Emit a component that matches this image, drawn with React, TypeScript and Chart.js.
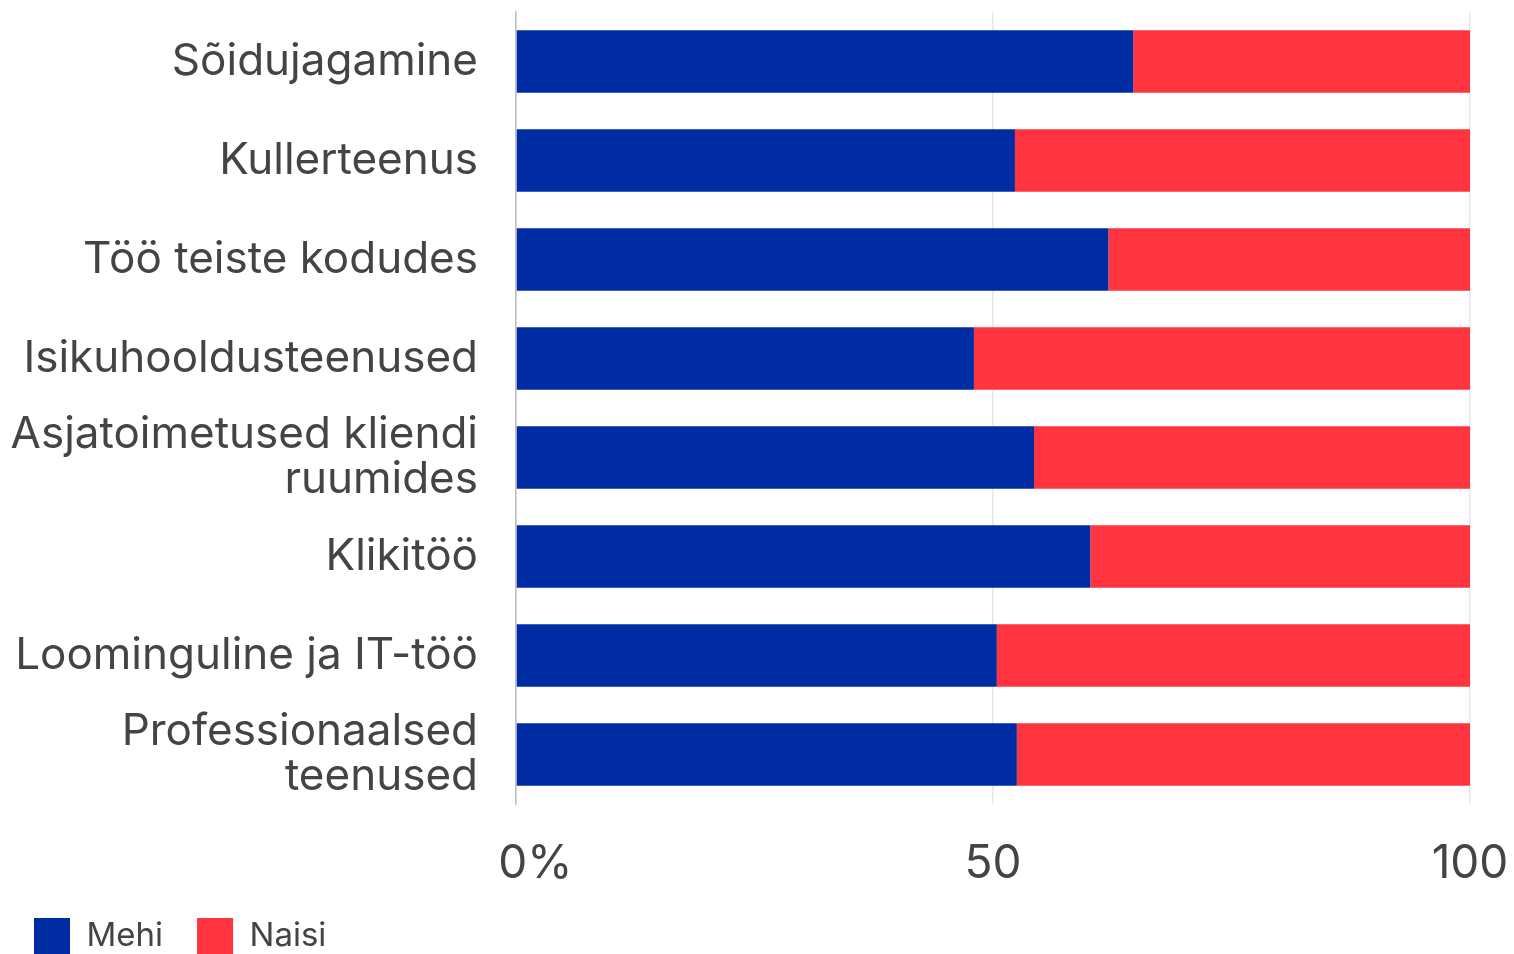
import React, { useEffect, useRef } from "react";
import { Chart, registerables } from "chart.js";

Chart.register(...registerables);

const categories: (string | string[])[] = [
  "Sõidujagamine",
  "Kullerteenus",
  "Töö teiste kodudes",
  "Isikuhooldusteenused",
  ["Asjatoimetused kliendi", "ruumides"],
  "Klikitöö",
  "Loominguline ja IT-töö",
  ["Professionaalsed", "teenused"],
];

const mehiValues = [64.7, 52.3, 62.1, 48.0, 54.3, 60.2, 50.4, 52.5];
const naisiValues = [35.3, 47.7, 37.9, 52.0, 45.7, 39.8, 49.6, 47.5];

const xTickValues = [0, 50, 100];
const xTickLabels = ["   0%", "50", "100"];

const seriesNames = ["Mehi", "Naisi"];
const seriesColors = ["#002CA3", "#FF343F"];

export default function App() {
  const canvasRef = useRef<HTMLCanvasElement | null>(null);

  useEffect(() => {
    const canvas = canvasRef.current;
    if (!canvas) return;
    const chart = new Chart(canvas, {
      type: "bar",
      data: {
        labels: categories,
        datasets: [
          {
            label: seriesNames[0],
            data: mehiValues,
            backgroundColor: seriesColors[0],
            borderWidth: 0,
            categoryPercentage: 0.9,
            barPercentage: 0.7,
          },
          {
            label: seriesNames[1],
            data: naisiValues,
            backgroundColor: seriesColors[1],
            borderWidth: 0,
            categoryPercentage: 0.9,
            barPercentage: 0.7,
          },
        ],
      },
      options: {
        indexAxis: "y",
        responsive: false,
        animation: false,
        devicePixelRatio: 1,
        layout: { padding: { top: 12, left: 0, right: 44, bottom: 0 } },
        plugins: {
          legend: {
            position: "bottom",
            align: "start",
            labels: {
              boxWidth: 36,
              boxHeight: 36,
              padding: 34,
              color: "#444444",
              font: { family: "Inter", size: 33 },
            },
          },
          tooltip: { enabled: false },
        },
        scales: {
          x: {
            stacked: true,
            min: 0,
            max: 100,
            afterBuildTicks: (scale: any) => {
              scale.ticks = xTickValues.map((v) => ({ value: v }));
            },
            afterFit: (scale: any) => {
              scale.height = 80;
              scale.paddingLeft = 0;
              scale.paddingRight = 0;
            },
            ticks: {
              padding: 33,
              color: "#444444",
              font: { family: "Inter", size: 46 },
              maxRotation: 0,
              autoSkip: false,
              callback: (value: any) => {
                const i = xTickValues.indexOf(Number(value));
                return i >= 0 ? xTickLabels[i] : "";
              },
            },
            grid: {
              color: "#E6E7EB",
              lineWidth: 1.5,
              drawTicks: false,
            },
            border: { display: false },
          },
          y: {
            stacked: true,
            afterFit: (scale: any) => {
              scale.width = 516;
              scale.paddingTop = 0;
              scale.paddingBottom = 0;
            },
            ticks: {
              padding: 38,
              autoSkip: false,
              color: "#444444",
              font: { family: "Inter", size: 44, lineHeight: 1.02 },
            },
            grid: { display: false, drawTicks: false },
            border: { display: true, color: "#BABECB", width: 1.5 },
          },
        },
      },
    });
    return () => chart.destroy();
  }, []);

  return (
    <div
      style={{
        position: "absolute",
        left: 0,
        top: 0,
        width: 1514,
        height: 954,
        overflow: "hidden",
        background: "#ffffff",
      }}
    >
      <canvas ref={canvasRef} width={1514} height={964} style={{ display: "block" }} />
    </div>
  );
}
